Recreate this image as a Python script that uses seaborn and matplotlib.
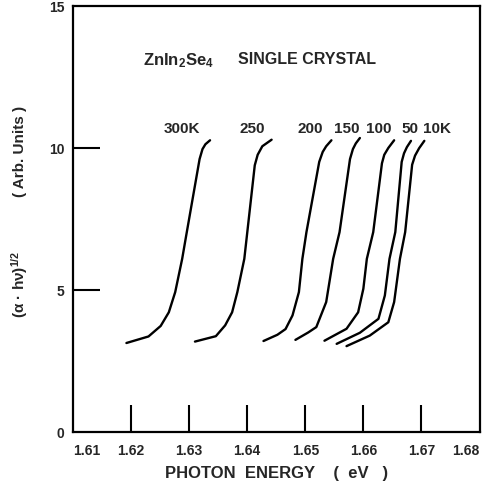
import numpy as np
import pandas as pd
import matplotlib
matplotlib.use("Agg")
import matplotlib.pyplot as plt
import seaborn as sns

# absorption edge, (alpha*h*nu)^1/2 vs photon energy
temps = ["300K", "250", "200", "150", "100", "50", "10K"]

e_300 = [1.6192, 1.6230, 1.6251, 1.6265, 1.6276, 1.6288, 1.6294, 1.6318, 1.6323, 1.6328, 1.6336]
v_300 = [3.13, 3.36, 3.73, 4.21, 4.92, 6.09, 6.80, 9.60, 9.95, 10.12, 10.26]

e_250 = [1.6310, 1.6346, 1.6362, 1.6374, 1.6383, 1.6395, 1.6413, 1.6418, 1.6426, 1.6442]
v_250 = [3.18, 3.37, 3.75, 4.21, 4.92, 6.09, 9.38, 9.75, 10.05, 10.28]

e_200 = [1.6428, 1.6452, 1.6466, 1.6478, 1.6489, 1.6495, 1.6502, 1.6524, 1.6530, 1.6536, 1.6545]
v_200 = [3.20, 3.42, 3.62, 4.10, 4.92, 6.09, 7.03, 9.50, 9.85, 10.05, 10.26]

e_150 = [1.6483, 1.6505, 1.6519, 1.6536, 1.6548, 1.6559, 1.6577, 1.6582, 1.6587, 1.6594]
v_150 = [3.24, 3.50, 3.69, 4.57, 6.09, 7.03, 9.60, 9.95, 10.15, 10.34]

e_100 = [1.6533, 1.6571, 1.6591, 1.6600, 1.6606, 1.6617, 1.6632, 1.6636, 1.6643, 1.6653]
v_100 = [3.21, 3.63, 4.21, 5.04, 6.09, 7.03, 9.45, 9.75, 9.99, 10.26]

e_50 = [1.6554, 1.6594, 1.6626, 1.6637, 1.6645, 1.6655, 1.6666, 1.6670, 1.6675, 1.6682]
v_50 = [3.10, 3.49, 3.98, 4.80, 6.09, 7.03, 9.50, 9.80, 10.02, 10.24]

e_10 = [1.6571, 1.6611, 1.6643, 1.6653, 1.6663, 1.6672, 1.6684, 1.6689, 1.6696, 1.6705]
v_10 = [3.02, 3.39, 3.86, 4.57, 6.09, 7.03, 9.40, 9.72, 9.98, 10.24]

# where the temperature labels sit
label_x = [1.6288, 1.6408, 1.6508, 1.6571, 1.6627, 1.6680, 1.6727]
label_y = 10.68

x_ticks = [1.61, 1.62, 1.63, 1.64, 1.65, 1.66, 1.67, 1.68]
x_marks = [1.62, 1.63, 1.64, 1.65, 1.66, 1.67]
y_ticks = [0, 5, 10, 15]
y_marks = [5, 10]

sns.set_style("white")
plt.rcParams['font.family'] = ['Liberation Sans', 'DejaVu Sans']
plt.rcParams['font.weight'] = 'bold'
plt.rcParams['mathtext.fontset'] = 'custom'
plt.rcParams['mathtext.rm'] = 'Liberation Sans:bold'
plt.rcParams['mathtext.it'] = 'Liberation Sans:bold'
plt.rcParams['mathtext.bf'] = 'Liberation Sans:bold'

energies = [e_300, e_250, e_200, e_150, e_100, e_50, e_10]
values = [v_300, v_250, v_200, v_150, v_100, v_50, v_10]
rows = []
for t, ee, vv in zip(temps, energies, values):
    for i, (e, v) in enumerate(zip(ee, vv)):
        rows.append({"temp": t, "order": i, "energy": e, "value": v})
df = pd.DataFrame(rows)

fig = plt.figure(figsize=(4.82, 4.85), dpi=100)
ax = fig.add_axes([73/482, 1-433/485, (479.5-73)/482, (433-6.5)/485])

sns.lineplot(data=df, x="energy", y="value", units="temp", estimator=None,
             sort=False, color="black", lw=1.7, ax=ax, legend=False)
for l in ax.lines:
    l.set_solid_joinstyle("round")
    l.set_solid_capstyle("round")

ax.set_xlim(1.61, 1.68)
ax.set_ylim(0, 15)

for s in ax.spines.values():
    s.set_visible(True)
    s.set_color("black")
    s.set_linewidth(1.6)

# labels everywhere, tick marks only on the inner positions
ax.xaxis.remove_overlapping_locs = False
ax.yaxis.remove_overlapping_locs = False
ax.set_xticks(x_ticks)
ax.set_xticklabels([f"{t:.2f}" for t in x_ticks], fontsize=10, fontweight="bold")
ax.set_yticks(y_ticks)
ax.set_yticklabels([str(t) for t in y_ticks], fontsize=10, fontweight="bold")
ax.set_xticks(x_marks, minor=True)
ax.set_yticks(y_marks, minor=True)
ax.tick_params(which="major", length=0)
ax.tick_params(axis="x", which="major", pad=8)
ax.tick_params(axis="y", which="major", pad=6)
ax.tick_params(which="minor", direction="in", length=19.5, width=1.5, color="black",
               bottom=True, left=True)
xl = ax.get_xticklabels()
xl[0].set_horizontalalignment("left")
xl[-1].set_horizontalalignment("right")

ax.set_xlabel("PHOTON  ENERGY    (  eV   )", fontsize=12, fontweight="bold", labelpad=6)
ax.set_ylabel("")

fig.text(20/482, 1-151/485, "( Arb. Units )", rotation=90, ha="center", va="center",
         fontsize=11, fontweight="bold")
fig.text(20/482, 1-284/485, "(α · hν)$^{1/2}$", rotation=90, ha="center", va="center",
         fontsize=11, fontweight="bold")

ax.text(1.6282, 13.11, "ZnIn$_2$Se$_4$", ha="center", va="center", fontsize=12, fontweight="bold")
ax.text(1.6503, 13.13, "SINGLE CRYSTAL", ha="center", va="center", fontsize=11.5, fontweight="bold")

for t, lx in zip(temps, label_x):
    ax.text(lx, label_y, t, ha="center", va="center", fontsize=11, fontweight="bold")

plt.savefig("out.png", dpi=100)
